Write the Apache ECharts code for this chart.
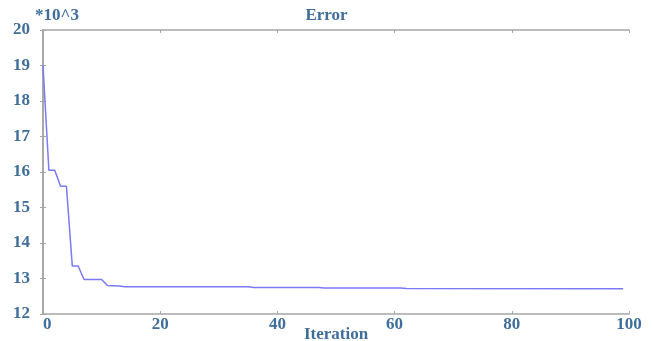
<!DOCTYPE html>
<html>
<head>
<meta charset="utf-8">
<script src="https://cdn.jsdelivr.net/npm/echarts@6/dist/echarts.min.js"></script>
<style>
  html, body { margin: 0; padding: 0; background: #fff; }
  #chart { width: 653px; height: 341px; }
</style>
</head>
<body>
<div id="chart"></div>
<script>
// Error vs Iteration — values in thousands (*10^3)
const iterations = [0, 1, 2, 3, 4, 5, 6, 7, 10, 11, 13, 14, 35, 36, 47, 48, 61, 62, 99];
const errors = [19.0, 16.05, 16.05, 15.6, 15.6, 13.35, 13.35, 12.97, 12.97, 12.8, 12.79, 12.77, 12.77, 12.745, 12.745, 12.73, 12.73, 12.715, 12.71];
const xTicks = [0, 20, 40, 60, 80, 100];

const TXT = '#3f6e9b';
const FONT = "'Liberation Serif', 'Times New Roman', serif";
const AX = '#a6a6a6';

const chart = echarts.init(document.getElementById('chart'), null, { renderer: 'canvas' });

const frameAxis = {
  axisLine: { show: true, lineStyle: { color: AX, width: 1.5 } },
  axisTick: { show: true, inside: true, length: 3, lineStyle: { color: AX } },
  axisLabel: { show: false },
  splitLine: { show: false },
};

chart.setOption({
  backgroundColor: '#fff',
  animation: false,
  title: [
    {
      text: 'Error', left: 'center', top: 2,
      textStyle: { color: TXT, fontFamily: FONT, fontWeight: 'bold', fontSize: 17 },
    },
    {
      text: '*10^3', left: 30, top: 2,
      textStyle: { color: TXT, fontFamily: FONT, fontWeight: 'bold', fontSize: 17 },
    },
  ],
  grid: { left: 43, right: 24, top: 30, bottom: 27, outerBoundsMode: 'none', containLabel: false },
  xAxis: [
    {
      type: 'value', min: 0, max: 100,
      name: 'Iteration', nameLocation: 'middle', nameGap: 12, nameMoveOverlap: false,
      nameTextStyle: { color: TXT, fontFamily: FONT, fontWeight: 'bold', fontSize: 17 },
      axisLine: { show: true, lineStyle: { color: AX, width: 1.5 } },
      axisTick: { show: true, inside: true, length: 3, lineStyle: { color: AX }, customValues: xTicks },
      axisLabel: {
        color: TXT, fontFamily: FONT, fontWeight: 'bold', fontSize: 17, margin: 2,
        customValues: xTicks, alignMinLabel: 'left',
      },
      splitLine: { show: false },
    },
    Object.assign({ type: 'value', position: 'top', min: 0, max: 100 }, frameAxis, {
      axisTick: { show: true, inside: true, length: 3, lineStyle: { color: AX }, customValues: xTicks },
    }),
  ],
  yAxis: [
    {
      type: 'value', min: 12, max: 20, interval: 1,
      axisLine: { show: true, lineStyle: { color: '#b4b4b4', width: 2 } },
      axisTick: { show: true, inside: true, length: 3, lineStyle: { color: AX } },
      axisLabel: { color: TXT, fontFamily: FONT, fontWeight: 'bold', fontSize: 17, margin: 13 },
      splitLine: { show: false },
    },
    Object.assign({ type: 'value', position: 'right', min: 12, max: 20, interval: 1 }, frameAxis),
  ],
  series: [
    {
      name: 'Error',
      type: 'line',
      data: iterations.map((it, i) => [it, errors[i]]),
      symbol: 'none',
      lineStyle: { color: '#7a7af8', width: 1.5 },
    },
  ],
});
</script>
</body>
</html>
